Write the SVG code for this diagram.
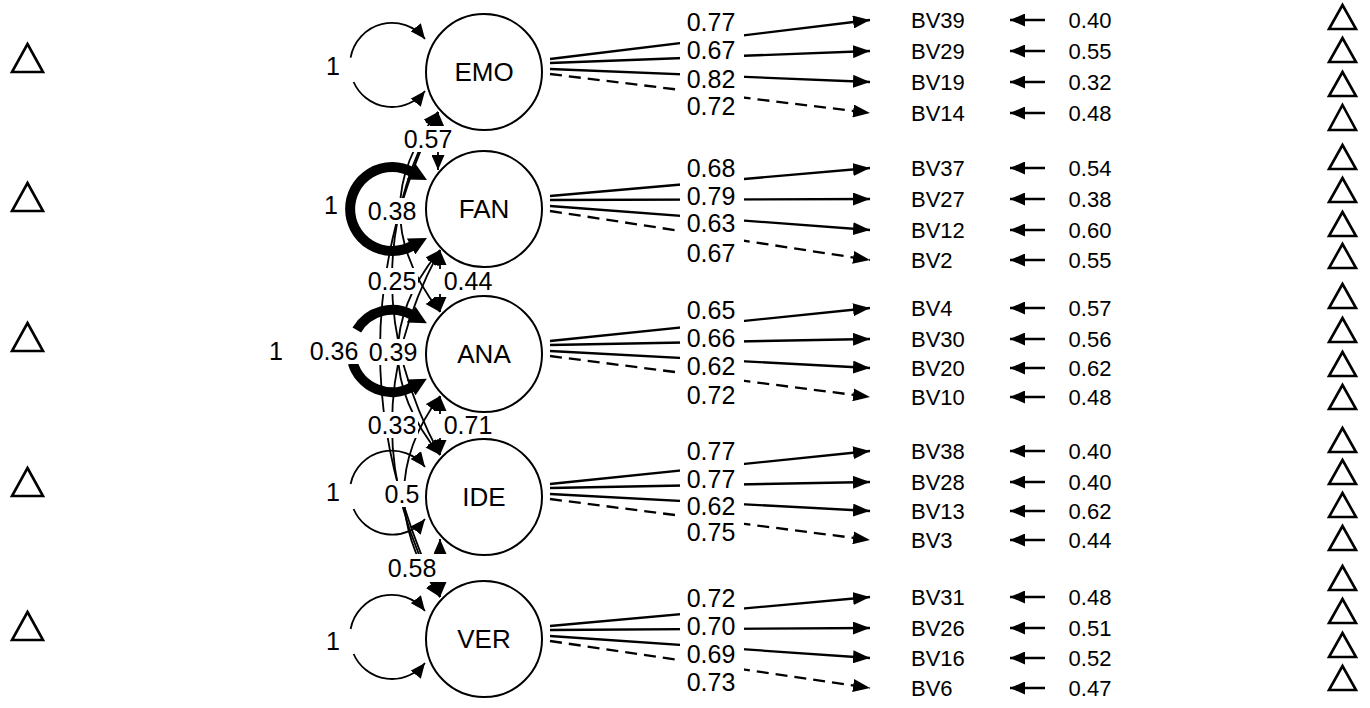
<svg xmlns="http://www.w3.org/2000/svg" width="1370" height="708" viewBox="0 0 1370 708">
<style>
.ln{stroke:#000;stroke-width:2.3;fill:none}
.ds{stroke-dasharray:12 7}
.cr{stroke:#000;stroke-width:1.8;fill:none}
.thk{stroke:#000;stroke-width:10;fill:none}
.nd{fill:#fff;stroke:#000;stroke-width:2}
.tri{fill:#fff;stroke:#000;stroke-width:2.6;stroke-linejoin:miter}
.tx{font-family:"Liberation Sans",Arial,Helvetica,sans-serif}
.tx text{fill:#000}
.lat{font-size:26px;text-anchor:middle}
.el{font-size:25px;text-anchor:middle}
.bv{font-size:22px}
.rv{font-size:22px;text-anchor:middle}
rect.bg{fill:#fff;stroke:none}
</style>
<defs>
<marker id="a" viewBox="0 0 17 13" markerWidth="17" markerHeight="13" refX="17" refY="6.5" orient="auto-start-reverse" markerUnits="userSpaceOnUse"><path d="M0,0L17,6.5L0,13z" fill="#000"/></marker>
<marker id="s" viewBox="0 0 15 13" markerWidth="15" markerHeight="13" refX="15" refY="6.5" orient="auto-start-reverse" markerUnits="userSpaceOnUse"><path d="M0,0L15,6.5L0,13z" fill="#000"/></marker>
<marker id="t" viewBox="0 0 18 18" markerWidth="18" markerHeight="18" refX="1" refY="9" orient="auto-start-reverse" markerUnits="userSpaceOnUse"><path d="M0,0L18,9L0,18z" fill="#000"/></marker>
</defs>

<g id="connectors">
<path class="cr" d="M350.6,57.7A42,42 0 0 1 425,39" marker-end="url(#s)"/>
<path class="cr" d="M353.6,82A42,42 0 0 0 425,91" marker-end="url(#s)"/>
<path class="thk" d="M412,172A42,42 0 1 0 412,246" marker-start="url(#t)" marker-end="url(#t)"/>
<path class="thk" d="M356.8,330A41,41 0 0 1 412,315" marker-end="url(#t)"/>
<path class="thk" d="M352.8,363A41,41 0 0 0 412,387" marker-end="url(#t)"/>
<path class="cr" d="M350.6,484A42,42 0 0 1 425,467" marker-end="url(#s)"/>
<path class="cr" d="M353.6,509A42,42 0 0 0 425,519" marker-end="url(#s)"/>
<path class="cr" d="M350.6,629A42,42 0 0 1 425,611" marker-end="url(#s)"/>
<path class="cr" d="M353.6,654A42,42 0 0 0 425,663" marker-end="url(#s)"/>
<path class="cr" d="M438,112L438,170" marker-start="url(#s)" marker-end="url(#s)"/>
<path class="cr" d="M440,250L440,312" marker-start="url(#s)" marker-end="url(#s)"/>
<path class="cr" d="M440,396L440,455" marker-start="url(#s)" marker-end="url(#s)"/>
<path class="cr" d="M440,539L440,597" marker-start="url(#s)" marker-end="url(#s)"/>
<path class="cr" d="M438,112Q361,210 440,312" marker-start="url(#s)" marker-end="url(#s)"/>
<path class="cr" d="M438,112Q345,278 440,455" marker-start="url(#s)" marker-end="url(#s)"/>
<path class="cr" d="M438,112Q321,350 440,597" marker-start="url(#s)" marker-end="url(#s)"/>
<path class="cr" d="M440,250Q356,352 440,455" marker-start="url(#s)" marker-end="url(#s)"/>
<path class="cr" d="M440,250Q344,427 440,597" marker-start="url(#s)" marker-end="url(#s)"/>
<path class="cr" d="M440,396Q368,492 440,597" marker-start="url(#s)" marker-end="url(#s)"/>
<path class="ln" d="M550,59L870,20" marker-end="url(#a)"/>
<path class="ln" d="M550,63L870,51" marker-end="url(#a)"/>
<path class="ln" d="M550,69L870,82" marker-end="url(#a)"/>
<path class="ln ds" d="M550,74L870,113" marker-end="url(#a)"/>
<path class="ln" d="M550,196L870,168" marker-end="url(#a)"/>
<path class="ln" d="M550,200L870,199" marker-end="url(#a)"/>
<path class="ln" d="M550,206L870,230" marker-end="url(#a)"/>
<path class="ln ds" d="M550,211L870,260" marker-end="url(#a)"/>
<path class="ln" d="M550,341L870,308" marker-end="url(#a)"/>
<path class="ln" d="M550,345L870,339" marker-end="url(#a)"/>
<path class="ln" d="M550,351L870,368" marker-end="url(#a)"/>
<path class="ln ds" d="M550,356L870,397" marker-end="url(#a)"/>
<path class="ln" d="M550,484L870,451" marker-end="url(#a)"/>
<path class="ln" d="M550,488L870,482" marker-end="url(#a)"/>
<path class="ln" d="M550,494L870,511" marker-end="url(#a)"/>
<path class="ln ds" d="M550,499L870,540" marker-end="url(#a)"/>
<path class="ln" d="M550,626L870,597" marker-end="url(#a)"/>
<path class="ln" d="M550,630L870,628" marker-end="url(#a)"/>
<path class="ln" d="M550,636L870,658" marker-end="url(#a)"/>
<path class="ln ds" d="M550,641L870,688" marker-end="url(#a)"/>
<path class="ln" d="M1045,20L1010,20" marker-end="url(#s)"/>
<path class="ln" d="M1045,51L1010,51" marker-end="url(#s)"/>
<path class="ln" d="M1045,82L1010,82" marker-end="url(#s)"/>
<path class="ln" d="M1045,113L1010,113" marker-end="url(#s)"/>
<path class="ln" d="M1045,168L1010,168" marker-end="url(#s)"/>
<path class="ln" d="M1045,199L1010,199" marker-end="url(#s)"/>
<path class="ln" d="M1045,230L1010,230" marker-end="url(#s)"/>
<path class="ln" d="M1045,260L1010,260" marker-end="url(#s)"/>
<path class="ln" d="M1045,308L1010,308" marker-end="url(#s)"/>
<path class="ln" d="M1045,339L1010,339" marker-end="url(#s)"/>
<path class="ln" d="M1045,368L1010,368" marker-end="url(#s)"/>
<path class="ln" d="M1045,397L1010,397" marker-end="url(#s)"/>
<path class="ln" d="M1045,451L1010,451" marker-end="url(#s)"/>
<path class="ln" d="M1045,482L1010,482" marker-end="url(#s)"/>
<path class="ln" d="M1045,511L1010,511" marker-end="url(#s)"/>
<path class="ln" d="M1045,540L1010,540" marker-end="url(#s)"/>
<path class="ln" d="M1045,597L1010,597" marker-end="url(#s)"/>
<path class="ln" d="M1045,628L1010,628" marker-end="url(#s)"/>
<path class="ln" d="M1045,658L1010,658" marker-end="url(#s)"/>
<path class="ln" d="M1045,688L1010,688" marker-end="url(#s)"/>
</g>

<g id="latents">
<g id="EMO"><circle class="nd" cx="484" cy="72" r="58"/><text class="tx lat" x="484" y="81">EMO</text></g>
<g id="FAN"><circle class="nd" cx="484" cy="209" r="58"/><text class="tx lat" x="484" y="218">FAN</text></g>
<g id="ANA"><circle class="nd" cx="484" cy="354" r="58"/><text class="tx lat" x="484" y="363">ANA</text></g>
<g id="IDE"><circle class="nd" cx="484" cy="497" r="58"/><text class="tx lat" x="484" y="506">IDE</text></g>
<g id="VER"><circle class="nd" cx="484" cy="639" r="58"/><text class="tx lat" x="484" y="648">VER</text></g>
</g>

<g id="edge-labels" class="tx">
<g class="el">
<rect class="bg" x="322" y="54" width="22" height="24"/><text x="333" y="75">1</text>
<rect class="bg" x="320" y="193" width="22" height="24"/><text x="331" y="214">1</text>
<text x="276" y="360">1</text>
<rect class="bg" x="322" y="480" width="22" height="24"/><text x="333" y="501">1</text>
<rect class="bg" x="322" y="629" width="22" height="24"/><text x="333" y="650">1</text>
<rect class="bg" x="402" y="126" width="52" height="26"/><text x="428" y="148">0.57</text>
<rect class="bg" x="366" y="198" width="52" height="26"/><text x="392" y="220">0.38</text>
<rect class="bg" x="366" y="268" width="52" height="26"/><text x="392" y="290">0.25</text>
<rect class="bg" x="436" y="269" width="58" height="25"/><text x="468" y="290">0.44</text>
<rect class="bg" x="308" y="338" width="52" height="26"/><text x="334" y="360">0.36</text>
<rect class="bg" x="367" y="339" width="52" height="26"/><text x="393" y="361">0.39</text>
<rect class="bg" x="366" y="412" width="52" height="26"/><text x="392" y="434">0.33</text>
<rect class="bg" x="436" y="414" width="58" height="24"/><text x="468" y="434">0.71</text>
<rect class="bg" x="384" y="481" width="37" height="26"/><text x="402" y="503">0.5</text>
<rect class="bg" x="386" y="554" width="58" height="28"/><text x="412" y="577">0.58</text>
</g>
<g class="el">
<rect class="bg" x="680" y="7" width="64" height="30"/><text x="711" y="31">0.77</text>
<rect class="bg" x="680" y="35" width="64" height="30"/><text x="711" y="59">0.67</text>
<rect class="bg" x="680" y="64" width="64" height="30"/><text x="711" y="88">0.82</text>
<rect class="bg" x="680" y="91" width="64" height="30"/><text x="711" y="115">0.72</text>
<rect class="bg" x="680" y="153" width="64" height="30"/><text x="711" y="177">0.68</text>
<rect class="bg" x="680" y="181" width="64" height="30"/><text x="711" y="205">0.79</text>
<rect class="bg" x="680" y="208" width="64" height="30"/><text x="711" y="232">0.63</text>
<rect class="bg" x="680" y="238" width="64" height="30"/><text x="711" y="262">0.67</text>
<rect class="bg" x="680" y="295" width="64" height="30"/><text x="711" y="319">0.65</text>
<rect class="bg" x="680" y="323" width="64" height="30"/><text x="711" y="347">0.66</text>
<rect class="bg" x="680" y="351" width="64" height="30"/><text x="711" y="375">0.62</text>
<rect class="bg" x="680" y="380" width="64" height="30"/><text x="711" y="404">0.72</text>
<rect class="bg" x="680" y="436" width="64" height="30"/><text x="711" y="460">0.77</text>
<rect class="bg" x="680" y="464" width="64" height="30"/><text x="711" y="488">0.77</text>
<rect class="bg" x="680" y="491" width="64" height="30"/><text x="711" y="515">0.62</text>
<rect class="bg" x="680" y="517" width="64" height="30"/><text x="711" y="541">0.75</text>
<rect class="bg" x="680" y="583" width="64" height="30"/><text x="711" y="607">0.72</text>
<rect class="bg" x="680" y="611" width="64" height="30"/><text x="711" y="635">0.70</text>
<rect class="bg" x="680" y="639" width="64" height="30"/><text x="711" y="663">0.69</text>
<rect class="bg" x="680" y="667" width="64" height="30"/><text x="711" y="691">0.73</text>
</g>
</g>

<g id="indicators" class="tx bv">
<g id="BV39"><text x="911" y="28">BV39</text></g>
<g id="BV29"><text x="911" y="59">BV29</text></g>
<g id="BV19"><text x="911" y="90">BV19</text></g>
<g id="BV14"><text x="911" y="121">BV14</text></g>
<g id="BV37"><text x="911" y="176">BV37</text></g>
<g id="BV27"><text x="911" y="207">BV27</text></g>
<g id="BV12"><text x="911" y="238">BV12</text></g>
<g id="BV2"><text x="911" y="268">BV2</text></g>
<g id="BV4"><text x="911" y="316">BV4</text></g>
<g id="BV30"><text x="911" y="347">BV30</text></g>
<g id="BV20"><text x="911" y="376">BV20</text></g>
<g id="BV10"><text x="911" y="405">BV10</text></g>
<g id="BV38"><text x="911" y="459">BV38</text></g>
<g id="BV28"><text x="911" y="490">BV28</text></g>
<g id="BV13"><text x="911" y="519">BV13</text></g>
<g id="BV3"><text x="911" y="548">BV3</text></g>
<g id="BV31"><text x="911" y="605">BV31</text></g>
<g id="BV26"><text x="911" y="636">BV26</text></g>
<g id="BV16"><text x="911" y="666">BV16</text></g>
<g id="BV6"><text x="911" y="696">BV6</text></g>
</g>

<g id="residual-labels" class="tx rv">
<text x="1090" y="28">0.40</text>
<text x="1090" y="59">0.55</text>
<text x="1090" y="90">0.32</text>
<text x="1090" y="121">0.48</text>
<text x="1090" y="176">0.54</text>
<text x="1090" y="207">0.38</text>
<text x="1090" y="238">0.60</text>
<text x="1090" y="268">0.55</text>
<text x="1090" y="316">0.57</text>
<text x="1090" y="347">0.56</text>
<text x="1090" y="376">0.62</text>
<text x="1090" y="405">0.48</text>
<text x="1090" y="459">0.40</text>
<text x="1090" y="490">0.40</text>
<text x="1090" y="519">0.62</text>
<text x="1090" y="548">0.44</text>
<text x="1090" y="605">0.48</text>
<text x="1090" y="636">0.51</text>
<text x="1090" y="666">0.52</text>
<text x="1090" y="696">0.47</text>
</g>

<g id="intercepts-latent">
<g id="int-EMO"><polygon class="tri" points="27.5,44 43,72 12,72"/></g>
<g id="int-FAN"><polygon class="tri" points="27.5,183 43,211 12,211"/></g>
<g id="int-ANA"><polygon class="tri" points="27.5,323 43,351 12,351"/></g>
<g id="int-IDE"><polygon class="tri" points="27.5,468 43,496 12,496"/></g>
<g id="int-VER"><polygon class="tri" points="27.5,612 43,640 12,640"/></g>
</g>

<g id="intercepts-indicators">
<polygon class="tri" points="1342.5,5 1356,29 1329,29"/>
<polygon class="tri" points="1342.5,38 1356,62 1329,62"/>
<polygon class="tri" points="1342.5,72 1356,96 1329,96"/>
<polygon class="tri" points="1342.5,105 1356,130 1329,130"/>
<polygon class="tri" points="1342.5,145 1356,169 1329,169"/>
<polygon class="tri" points="1342.5,178 1356,202 1329,202"/>
<polygon class="tri" points="1342.5,212 1356,236 1329,236"/>
<polygon class="tri" points="1342.5,244 1356,268 1329,268"/>
<polygon class="tri" points="1342.5,284 1356,308 1329,308"/>
<polygon class="tri" points="1342.5,318 1356,342 1329,342"/>
<polygon class="tri" points="1342.5,352 1356,376 1329,376"/>
<polygon class="tri" points="1342.5,385 1356,409 1329,409"/>
<polygon class="tri" points="1342.5,428 1356,452 1329,452"/>
<polygon class="tri" points="1342.5,460 1356,484 1329,484"/>
<polygon class="tri" points="1342.5,493 1356,517 1329,517"/>
<polygon class="tri" points="1342.5,526 1356,550 1329,550"/>
<polygon class="tri" points="1342.5,566 1356,590 1329,590"/>
<polygon class="tri" points="1342.5,599 1356,623 1329,623"/>
<polygon class="tri" points="1342.5,633 1356,657 1329,657"/>
<polygon class="tri" points="1342.5,666 1356,690 1329,690"/>
</g>
</svg>
